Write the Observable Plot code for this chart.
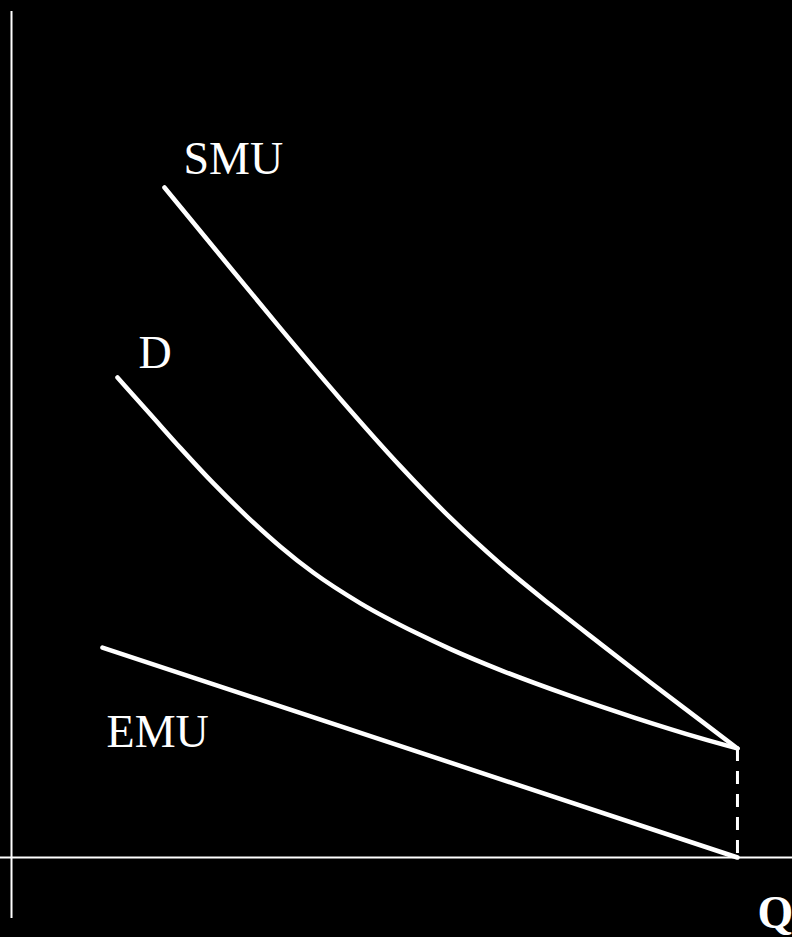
<!DOCTYPE html>
<html>
<head>
<meta charset="utf-8">
<script src="https://cdn.jsdelivr.net/npm/d3@7"></script>
<script src="https://cdn.jsdelivr.net/npm/@observablehq/plot@0.6"></script>
<style>
  html, body { margin: 0; padding: 0; background: #000; }
  #chart svg { display: block; }
</style>
</head>
<body>
<div id="chart"></div>
<script>
// Quantity (x) and price/utility (y) in abstract units
const smuQ = [2.107, 2.879, 3.705, 4.532, 5.358, 6.047, 6.736, 7.424, 8.113, 8.802, 9.490, 10.0];
const smuP = [7.818, 7.021, 6.174, 5.348, 4.564, 3.962, 3.426, 2.948, 2.493, 2.043, 1.600, 1.272];

const dQ = [1.460, 1.915, 2.328, 2.782, 3.251, 3.705, 4.160, 4.807, 5.592, 6.047, 6.736, 7.658, 8.567, 9.490, 10.0];
const dP = [5.601, 5.169, 4.777, 4.365, 3.973, 3.627, 3.322, 2.966, 2.613, 2.432, 2.187, 1.897, 1.636, 1.393, 1.272];

const emuQ = [1.253, 10.0];
const emuP = [2.45, 0.0];

const qStar = 10.0;
const pStar = 1.272;

const labelText = ["SMU", "D", "EMU"];
const labelQ = [2.369, 1.749, 1.309];
const labelP = [7.981, 5.706, 1.284];

const qLabel = "Q";
const qLabelX = 10.275;
const qLabelY = -0.828;

const yAxisRange = [-0.712, 9.872];
const xAxisRange = [-0.152, 10.758];

const toRows = (xs, ys) => xs.map((x, i) => ({x, y: ys[i]}));
const smu = toRows(smuQ, smuP);
const dem = toRows(dQ, dP);
const emu = toRows(emuQ, emuP);
const labels = labelText.map((t, i) => ({t, x: labelQ[i], y: labelP[i]}));

const chart = Plot.plot({
  width: 792,
  height: 937,
  marginLeft: 11,
  marginRight: 0,
  marginTop: 0,
  marginBottom: 80,
  x: {domain: [0, 10.758], axis: null},
  y: {domain: [0, 10], axis: null},
  style: {background: "#000", color: "#fff"},
  marks: [
    Plot.ruleX([0], {y1: yAxisRange[0], y2: yAxisRange[1], stroke: "#fff", strokeWidth: 2}),
    Plot.ruleY([0], {x1: xAxisRange[0], x2: xAxisRange[1], stroke: "#fff", strokeWidth: 2}),
    Plot.line(smu, {x: "x", y: "y", curve: "monotone-x", stroke: "#fff", strokeWidth: 4.5}),
    Plot.line(dem, {x: "x", y: "y", curve: "monotone-x", stroke: "#fff", strokeWidth: 4.5}),
    Plot.line(emu, {x: "x", y: "y", stroke: "#fff", strokeWidth: 4.5}),
    Plot.ruleX([qStar], {y1: pStar, y2: 0, stroke: "#fff", strokeWidth: 3, strokeDasharray: "13,10"}),
    Plot.text(labels, {x: "x", y: "y", text: "t", textAnchor: "start", lineAnchor: "bottom",
      fontFamily: "Liberation Serif", fontSize: 46, fill: "#fff"}),
    Plot.text([qLabel], {x: qLabelX, y: qLabelY, text: d => d, textAnchor: "start", lineAnchor: "bottom",
      fontFamily: "Liberation Serif", fontWeight: "bold", fontSize: 46, fill: "#fff"})
  ]
});
document.getElementById("chart").appendChild(chart);
</script>
</body>
</html>
